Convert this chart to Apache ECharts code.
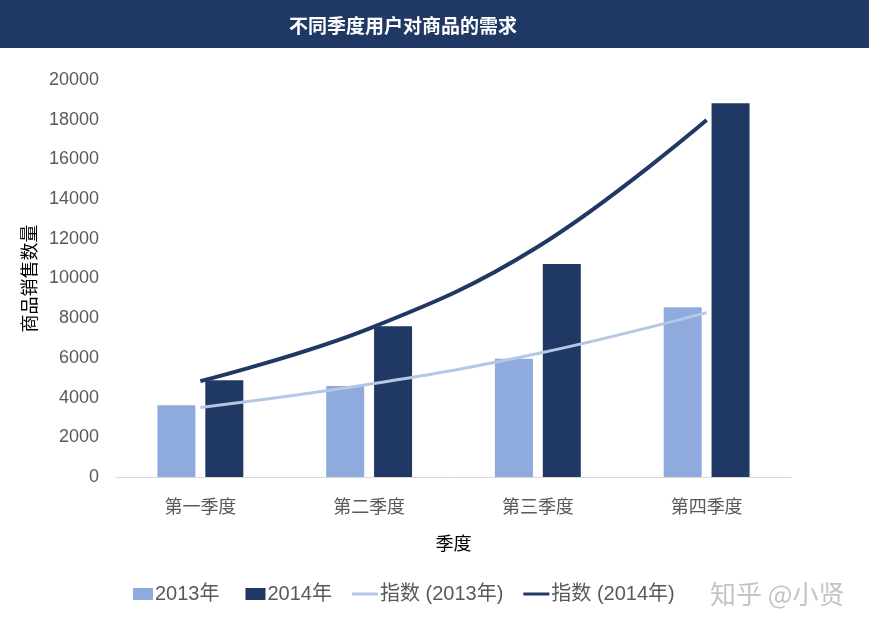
<!DOCTYPE html>
<html><head><meta charset="utf-8">
<script src="https://cdn.jsdelivr.net/npm/echarts@6/dist/echarts.min.js"></script>
<style>html,body{margin:0;padding:0;background:#fff}#c{width:869px;height:632px}</style>
</head><body><div id="c"></div>
<script>
var titleText = '不同季度用户对商品的需求';
var categories = ['第一季度', '第二季度', '第三季度', '第四季度'];
var sales2013 = [3620, 4580, 5960, 8550];
var sales2014 = [4880, 7600, 10730, 18830];
var trend2013 = [3500, 4670, 6220, 8280];
var trend2014 = [4830, 7480, 11600, 17980];
var yTicks = { min: 0, max: 20000, interval: 2000 };
var seriesNames = ['2013年', '2014年', '指数 (2013年)', '指数 (2014年)'];
var yName = '商品销售数量';
var xName = '季度';
var watermark = '知乎 @小贤';

var FONT = "'Liberation Sans', Arial, 'Noto Sans CJK SC', sans-serif";
var CJK = "'Noto Sans CJK SC', sans-serif";
// icon shapes inside a 26x12 box (degenerate corner points fix the bounding box)
var squareIcon = 'path://M0,0L0.01,0M0,12L0.01,12M6,0L26,0L26,12L6,12Z';
var lineIcon = 'path://M0,0L0.01,0M0,12L0.01,12M0,4.5L26,4.5L26,7.5L0,7.5Z';

var chart = echarts.init(document.getElementById('c'), null, { renderer: 'canvas' });
chart.setOption({
  animation: false,
  backgroundColor: '#ffffff',
  textStyle: { fontFamily: FONT },
  graphic: [
    { type: 'rect', left: 0, top: 0, shape: { x: 0, y: 0, width: 869, height: 48 }, style: { fill: '#203864' }, z: -1 },
    { type: 'text', left: 710, top: 581, style: { text: watermark, fill: '#c4c4c4', font: "26px 'Noto Sans CJK SC', sans-serif" } }
  ],
  title: {
    text: titleText, left: 284, top: 11,
    textStyle: { color: '#ffffff', fontSize: 19, fontWeight: 'bold', fontFamily: CJK }
  },
  legend: {
    left: 122, top: 579, itemWidth: 26, itemHeight: 12, itemGap: 20,
    data: [
      { name: seriesNames[0], icon: squareIcon },
      { name: seriesNames[1], icon: squareIcon },
      { name: seriesNames[2], icon: lineIcon },
      { name: seriesNames[3], icon: lineIcon }
    ],
    textStyle: { color: '#595959', fontSize: 20, fontFamily: FONT, padding: [0, 0, 0, -3] }
  },
  grid: { left: 116, right: 78, top: 80, bottom: 155, containLabel: false },
  xAxis: {
    type: 'category', data: categories, boundaryGap: true,
    name: xName, nameLocation: 'middle', nameGap: 57,
    nameTextStyle: { color: '#000000', fontSize: 18, fontFamily: CJK },
    axisLine: { lineStyle: { color: '#d9d9d9', width: 1 } },
    axisTick: { show: false },
    axisLabel: { color: '#595959', fontSize: 18, margin: 20, fontFamily: CJK }
  },
  yAxis: {
    type: 'value', min: yTicks.min, max: yTicks.max, interval: yTicks.interval,
    name: yName, nameLocation: 'middle', nameGap: 73, nameRotate: 90,
    nameTextStyle: { color: '#000000', fontSize: 18, fontFamily: CJK },
    axisLine: { show: false }, axisTick: { show: false }, splitLine: { show: false },
    axisLabel: { color: '#595959', fontSize: 18, margin: 17, fontFamily: FONT,
      formatter: function (v) { return String(v); } }
  },
  series: [
    { name: seriesNames[0], type: 'bar', data: sales2013, barWidth: 38, barGap: '26%', itemStyle: { color: '#8FAADC' } },
    { name: seriesNames[1], type: 'bar', data: sales2014, barWidth: 38, barGap: '26%', itemStyle: { color: '#203864' } },
    { name: seriesNames[2], type: 'line', data: trend2013, smooth: 0.4, symbol: 'none', z: 5,
      lineStyle: { color: '#B4C7E7', width: 3 }, itemStyle: { color: '#B4C7E7' } },
    { name: seriesNames[3], type: 'line', data: trend2014, smooth: 0.4, symbol: 'none', z: 6,
      lineStyle: { color: '#203864', width: 4 }, itemStyle: { color: '#203864' } }
  ]
});
</script></body></html>
